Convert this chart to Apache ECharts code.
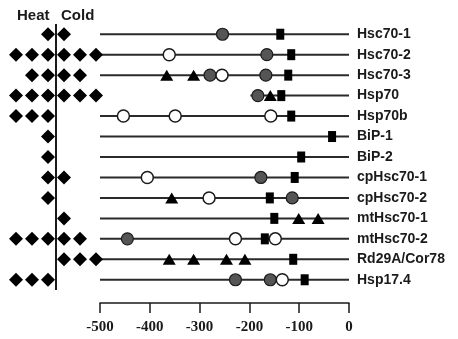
<!DOCTYPE html>
<html>
<head>
<meta charset="utf-8">
<script src="https://cdn.jsdelivr.net/npm/echarts@6/dist/echarts.min.js"></script>
<style>
  html, body { margin: 0; padding: 0; background: #fff; }
  #chart { width: 458px; height: 339px; }
</style>
</head>
<body>
<div id="chart"></div>
<script>
// gene rows, top to bottom
const genes = ['Hsc70-1', 'Hsc70-2', 'Hsc70-3', 'Hsp70', 'Hsp70b', 'BiP-1', 'BiP-2',
  'cpHsc70-1', 'cpHsc70-2', 'mtHsc70-1', 'mtHsc70-2', 'Rd29A/Cor78', 'Hsp17.4'];

// number of diamonds in each column
const heatCounts = [1, 3, 2, 3, 3, 1, 1, 1, 1, 0, 3, 0, 3];
const coldCounts = [1, 3, 2, 3, 0, 0, 0, 1, 0, 1, 2, 3, 0];

// where each promoter line starts (bp)
const lineStarts = [-500, -500, -500, -198, -500, -500, -500, -500, -500, -500, -500, -500, -500];

const xTicks = [-500, -400, -300, -200, -100, 0];

// element positions [bp, gene]
const greyCircles = [
  [-254, 'Hsc70-1'], [-165, 'Hsc70-2'], [-279, 'Hsc70-3'], [-167, 'Hsc70-3'],
  [-183, 'Hsp70'], [-177, 'cpHsc70-1'], [-114, 'cpHsc70-2'], [-445, 'mtHsc70-2'],
  [-228, 'Hsp17.4'], [-158, 'Hsp17.4'],
];
const openCircles = [
  [-361, 'Hsc70-2'], [-255, 'Hsc70-3'], [-453, 'Hsp70b'], [-349, 'Hsp70b'], [-157, 'Hsp70b'],
  [-405, 'cpHsc70-1'], [-281, 'cpHsc70-2'], [-228, 'mtHsc70-2'], [-148, 'mtHsc70-2'],
  [-134, 'Hsp17.4'],
];
const squares = [
  [-138, 'Hsc70-1'], [-116, 'Hsc70-2'], [-122, 'Hsc70-3'], [-136, 'Hsp70'], [-116, 'Hsp70b'],
  [-34, 'BiP-1'], [-96, 'BiP-2'], [-109, 'cpHsc70-1'], [-159, 'cpHsc70-2'], [-150, 'mtHsc70-1'],
  [-169, 'mtHsc70-2'], [-112, 'Rd29A/Cor78'], [-89, 'Hsp17.4'],
];
const triangles = [
  [-366, 'Hsc70-3'], [-312, 'Hsc70-3'], [-158, 'Hsp70'], [-356, 'cpHsc70-2'],
  [-101, 'mtHsc70-1'], [-62, 'mtHsc70-1'],
  [-361, 'Rd29A/Cor78'], [-312, 'Rd29A/Cor78'], [-246, 'Rd29A/Cor78'], [-209, 'Rd29A/Cor78'],
];

const diamonds = [];
genes.forEach((g, i) => {
  for (let k = 0; k < heatCounts[i]; k++) diamonds.push([-0.5 - k, g]);
  for (let k = 0; k < coldCounts[i]; k++) diamonds.push([0.5 + k, g]);
});

const ink = '#1a1a1a';
const chart = echarts.init(document.getElementById('chart'));

const option = {
  animation: false,
  backgroundColor: '#fff',
  graphic: [
    { type: 'text', left: 17, top: 8, style: { text: 'Heat', font: 'bold 15px "Liberation Sans", Arial', fill: ink } },
    { type: 'text', left: 61, top: 8, style: { text: 'Cold', font: 'bold 15px "Liberation Sans", Arial', fill: ink } },
  ],
  grid: [
    { left: 0, width: 112, top: 24, height: 266 },
    { left: 100, right: 109, top: 24, height: 266 },
  ],
  xAxis: [
    { gridIndex: 0, type: 'value', min: -3.5, max: 3.5, show: false },
    {
      gridIndex: 1, type: 'value', min: -500, max: 0, interval: 100,
      position: 'bottom', offset: 13,
      axisLine: { show: true, onZero: false, lineStyle: { color: ink, width: 1.5 } },
      axisTick: { show: true, length: 10, lineStyle: { color: ink, width: 1.5 } },
      axisLabel: {
        margin: 17, color: ink, fontSize: 15, fontWeight: 'bold',
        fontFamily: '"Liberation Serif", "Times New Roman", serif',
        formatter: (v) => (xTicks.indexOf(v) >= 0 ? String(v) : ''),
      },
      splitLine: { show: false },
    },
  ],
  yAxis: [
    { gridIndex: 0, type: 'category', data: genes, inverse: true, show: false },
    {
      gridIndex: 1, type: 'category', data: genes, inverse: true, position: 'right',
      axisLine: { show: false }, axisTick: { show: false },
      axisLabel: {
        margin: 8, color: ink, fontSize: 14, fontWeight: 'bold',
        fontFamily: '"Liberation Sans", Arial, sans-serif',
      },
    },
  ],
  series: [
    {
      type: 'scatter', xAxisIndex: 0, yAxisIndex: 0, data: diamonds,
      symbol: 'diamond', symbolSize: [14, 14], itemStyle: { color: '#000', opacity: 1 }, z: 5,
      markLine: {
        silent: true, symbol: 'none', label: { show: false },
        lineStyle: { color: ink, width: 2, type: 'solid' },
        data: [{ xAxis: 0 }],
      },
    },
    {
      type: 'bar', xAxisIndex: 1, yAxisIndex: 1, data: lineStarts,
      barWidth: 2, itemStyle: { color: '#2a2a2a' }, silent: true, z: 1,
    },
    {
      type: 'scatter', xAxisIndex: 1, yAxisIndex: 1, data: triangles,
      symbol: 'triangle', symbolSize: [13, 11], itemStyle: { color: '#000', opacity: 1 }, z: 4,
    },
    {
      type: 'scatter', xAxisIndex: 1, yAxisIndex: 1, data: squares,
      symbol: 'rect', symbolSize: [8, 11], itemStyle: { color: '#000', opacity: 1 }, z: 4,
    },
    {
      type: 'scatter', xAxisIndex: 1, yAxisIndex: 1, data: greyCircles,
      symbol: 'circle', symbolSize: 12,
      itemStyle: { color: '#555', borderColor: '#1a1a1a', borderWidth: 1.2, opacity: 1 }, z: 3,
    },
    {
      type: 'scatter', xAxisIndex: 1, yAxisIndex: 1, data: openCircles,
      symbol: 'circle', symbolSize: 12,
      itemStyle: { color: '#fff', borderColor: '#1a1a1a', borderWidth: 1.5, opacity: 1 }, z: 3,
    },
  ],
};

chart.setOption(option);
</script>
</body>
</html>
